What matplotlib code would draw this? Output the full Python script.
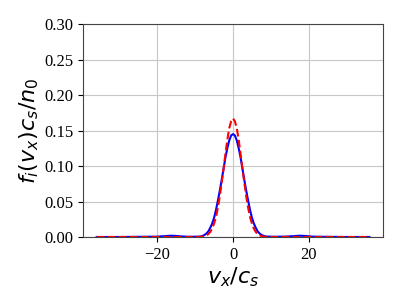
import matplotlib
matplotlib.use("Agg")
import matplotlib.pyplot as plt

# velocity grid (v_x / c_s)
vx = [-36, -30, -24, -20, -18, -16.5, -15, -13.5, -12, -10, -9, -8.5, -8, -7.5, -7, -6.5, -6, -5.5, -5, -4.5, -4,
      -3.5, -3, -2.5, -2, -1.5, -1, -0.5, 0, 0.5, 1, 1.5, 2, 2.5, 3, 3.5, 4, 4.5, 5, 5.5, 6, 6.5, 7,
      7.5, 8, 8.5, 9, 10, 12, 14, 16, 17.5, 19, 21, 24, 30, 36]

# blue (solid) distribution
f_blue = [0.0, 0.0, 0.0003, 0.0005, 0.0012, 0.0018, 0.0015, 0.0008, 0.0004, 0.0004, 0.0005, 0.0008, 0.0015,
          0.003, 0.005, 0.008, 0.013, 0.019, 0.027, 0.038, 0.051,
          0.065, 0.080, 0.096, 0.112, 0.125, 0.136, 0.143, 0.145, 0.143, 0.136, 0.125, 0.112, 0.096, 0.080,
          0.065, 0.051, 0.038, 0.027, 0.019, 0.013, 0.008, 0.005,
          0.003, 0.0018, 0.001, 0.0006, 0.0004, 0.0004, 0.0006, 0.0012, 0.0018, 0.0015, 0.0005, 0.0003, 0.0, 0.0]

# red (dashed) distribution
f_red = [0.0, 0.0, 0.0, 0.0, 0.0, 0.0, 0.0, 0.0, 0.0, 0.0, 0.0001, 0.0003, 0.0006,
         0.0012, 0.0023, 0.0042, 0.0072, 0.012, 0.019, 0.028, 0.041,
         0.057, 0.076, 0.096, 0.117, 0.137, 0.153, 0.163, 0.167, 0.163, 0.153, 0.137, 0.117, 0.096, 0.076,
         0.057, 0.041, 0.028, 0.019, 0.012, 0.0072, 0.0042, 0.0023,
         0.0012, 0.0006, 0.0003, 0.0001, 0.0, 0.0, 0.0, 0.0, 0.0, 0.0, 0.0, 0.0, 0.0, 0.0]

xticks = [-20, 0, 20]
yticks = [0.00, 0.05, 0.10, 0.15, 0.20, 0.25, 0.30]

plt.rcParams['mathtext.fontset'] = 'dejavusans'

fig = plt.figure(figsize=(4.07, 3.06), dpi=100)
ax = fig.add_axes([0.204, 0.2255, 0.737, 0.696])

ax.plot(vx, f_blue, color='blue', lw=1.5, zorder=3)
ax.plot(vx, f_red, color='red', lw=1.5, ls='--', zorder=4)

ax.set_xlim(-39.6, 39.6)
ax.set_ylim(0, 0.30)
ax.set_xticks(xticks)
ax.set_yticks(yticks)
ax.set_yticklabels([f"{t:.2f}" for t in yticks])
ax.set_xticklabels(["\u2212" + str(abs(t)) if t < 0 else str(t) for t in xticks])
for lab in ax.get_xticklabels() + ax.get_yticklabels():
    lab.set_fontfamily('Liberation Serif')
    lab.set_fontsize(12)

ax.grid(True, color='#c8c8c8', lw=0.8)
ax.set_axisbelow(True)
for s in ax.spines.values():
    s.set_color('#444444')

ax.set_xlabel(r'$v_x/c_s$', fontsize=16, labelpad=2)
ax.set_ylabel(r'$f_i(v_x)c_s/n_0$', fontsize=16, labelpad=2)

fig.savefig('out.png', dpi=100)
